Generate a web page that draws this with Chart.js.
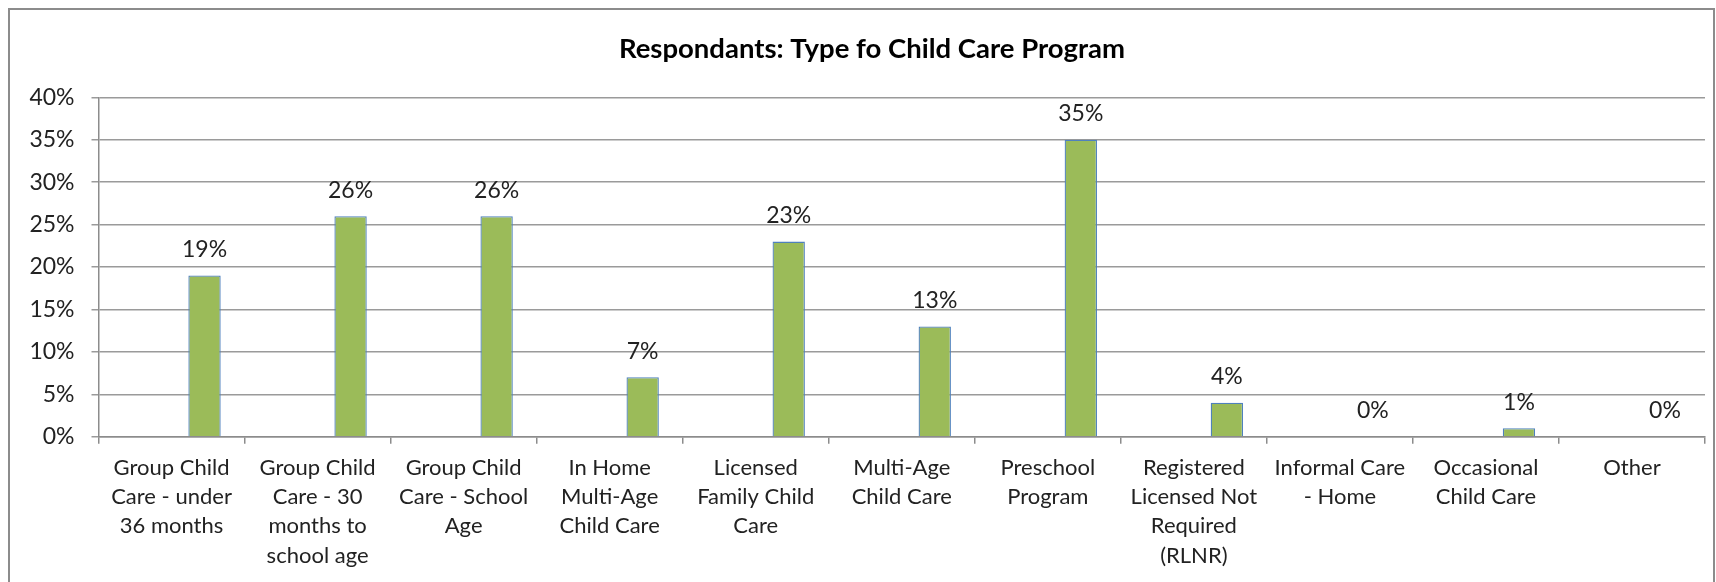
<!DOCTYPE html>
<html>
<head>
<meta charset="utf-8">
<script src="https://cdn.jsdelivr.net/npm/chart.js@4"></script>
<style>
  body { margin: 0; background: #fff; }
  #wrap { position: relative; width: 1716px; height: 582px; overflow: hidden; }
  #frame { position: absolute; left: 8px; top: 8px; width: 1707px; height: 640px; border: 2px solid #8c8c8c; box-sizing: border-box; pointer-events: none; }
</style>
</head>
<body>
<div id="wrap">
  <canvas id="myChart" width="1716" height="582" style="width:1716px;height:582px"></canvas>
  <div id="frame"></div>
</div>
<script>
// categories, wrapped the way the axis shows them
const categories = [
  ['Group Child', 'Care - under', '36 months'],
  ['Group Child', 'Care - 30', 'months to', 'school age'],
  ['Group Child', 'Care - School', 'Age'],
  ['In Home', 'Multi-Age', 'Child Care'],
  ['Licensed', 'Family Child', 'Care'],
  ['Multi-Age', 'Child Care'],
  ['Preschool', 'Program'],
  ['Registered', 'Licensed Not', 'Required', '(RLNR)'],
  ['Informal Care', '- Home'],
  ['Occasional', 'Child Care'],
  ['Other']
];

// percent of respondants
const values = [19, 26, 26, 7, 23, 13, 35, 4, 0, 1, 0];

// the chart has a blank first series, so the bars sit right of centre
const emptySeries = [null, null, null, null, null, null, null, null, null, null, null];

const yMax = 40;
const yStep = 5;

const title = 'Respondants: Type fo Child Care Program';

// title is centred on the frame, not on the plot, so draw it by hand
const titlePlugin = {
  id: 'titlePlugin',
  afterDraw(chart) {
    const ctx = chart.ctx;
    ctx.save();
    ctx.font = 'bold 27.5px Lato';
    ctx.fillStyle = '#000';
    ctx.textAlign = 'center';
    ctx.textBaseline = 'middle';
    ctx.fillText(title, 872, 49);
    ctx.restore();
  }
};

const barLabels = {
  id: 'barLabels',
  afterDatasetsDraw(chart) {
    const ctx = chart.ctx;
    const meta = chart.getDatasetMeta(1);
    ctx.save();
    ctx.font = '23px Lato';
    ctx.fillStyle = '#222';
    ctx.textAlign = 'center';
    ctx.textBaseline = 'middle';
    meta.data.forEach((bar, i) => {
      ctx.fillText(values[i] + '%', bar.x, bar.y - 26);
    });
    ctx.restore();
  }
};

var ctx = document.getElementById('myChart').getContext('2d');

var myChart = new Chart(ctx, {
  type: 'bar',
  data: {
    labels: categories,
    datasets: [{
      data: emptySeries,
      backgroundColor: '#4F81BD'
    }, {
      data: values,
      backgroundColor: '#9BBB59',
      borderColor: '#4f81bd',
      borderWidth: 1.3
    }]
  },
  options: {
    responsive: false,
    animation: false,
    categoryPercentage: 0.904,
    barPercentage: 0.49,
    layout: { padding: { left: 0, right: 11, top: 97.4, bottom: 0 } },
    plugins: {
      legend: { display: false },
      tooltip: { enabled: false },
      title: { display: false }
    },
    scales: {
      x: {
        grid: { offset: true, drawOnChartArea: false, drawTicks: true, tickLength: 7, color: '#8c8c8c', lineWidth: 1.5 },
        border: { color: '#8c8c8c', width: 1.5 },
        ticks: {
          color: '#222',
          font: { family: 'Lato', size: 22, lineHeight: 1.34 },
          padding: 9,
          maxRotation: 0,
          autoSkip: false
        },
        afterFit(scale) { scale.height = 145.3; }
      },
      y: {
        min: 0,
        max: yMax,
        grid: { color: '#9a9a9a', lineWidth: 1.5, tickLength: 7 },
        border: { color: '#8c8c8c', width: 1.5 },
        ticks: {
          stepSize: yStep,
          color: '#222',
          font: { family: 'Lato', size: 23 },
          padding: 17,
          callback: v => v + '%'
        },
        afterFit(scale) { scale.width = 98.5; }
      }
    }
  },
  plugins: [barLabels, titlePlugin]
});
</script>
</body>
</html>
